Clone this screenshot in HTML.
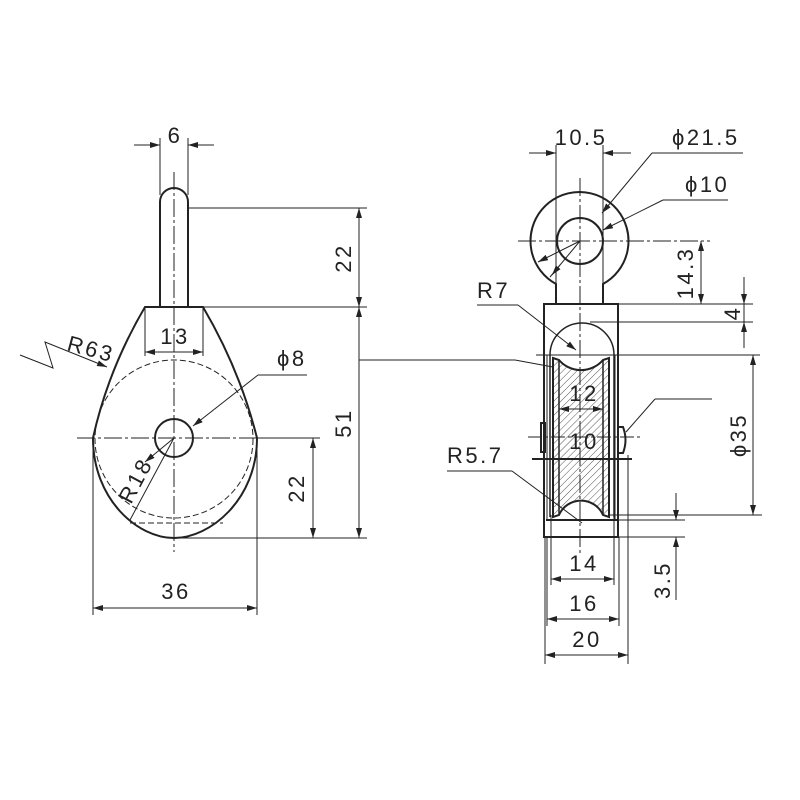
<!DOCTYPE html>
<html><head><meta charset="utf-8"><style>html,body{margin:0;padding:0;background:#fff}svg{display:block}</style></head><body>
<svg width="800" height="800" viewBox="0 0 800 800" xmlns="http://www.w3.org/2000/svg">
<defs>
<pattern id="h" width="5" height="5" patternUnits="userSpaceOnUse" patternTransform="rotate(45)">
<line x1="0" y1="0" x2="0" y2="5" stroke="#555" stroke-width="1"/></pattern>
<marker id="a" viewBox="0 0 10 6" refX="10" refY="3" markerWidth="10" markerHeight="6" orient="auto-start-reverse" markerUnits="userSpaceOnUse"><path d="M0,0 L10,3 L0,6 Z" fill="#222"/></marker>
</defs>
<rect width="800" height="800" fill="#fff"/>
<g font-family="'Liberation Sans Narrow','Liberation Sans',sans-serif" font-size="22" letter-spacing="2.5" fill="#222">
<!-- LEFT VIEW -->
<g stroke="#222" fill="none">
<path d="M160,307 L160,202 A14,14 0 0 1 188,202 L188,307" stroke-width="2"/>
<path d="M145,307 L203,307 Q240,370 257,438 C257,500 210,538 174,538 C138,538 93,500 93,438 Q108,370 145,307 Z" stroke-width="2"/>
<circle cx="174" cy="438" r="19" stroke-width="2"/>
<circle cx="174" cy="439" r="79" stroke-width="1" stroke-dasharray="6,3"/>
<line x1="130" y1="523" x2="223" y2="523" stroke-width="1" stroke-dasharray="6,3"/>
<g stroke-width="1">
<line x1="174" y1="172" x2="174" y2="552" stroke-dasharray="18,3,3,3"/>
<line x1="77" y1="438" x2="320" y2="438" stroke-dasharray="18,3,3,3"/>
<line x1="160" y1="138" x2="160" y2="195"/><line x1="188" y1="138" x2="188" y2="195"/>
<line x1="134" y1="145" x2="160" y2="145" marker-end="url(#a)"/><line x1="214" y1="145" x2="188" y2="145" marker-end="url(#a)"/>
<line x1="188" y1="208" x2="367" y2="208"/>
<line x1="203" y1="307" x2="367" y2="307"/>
<line x1="174" y1="538" x2="367" y2="538"/>
<line x1="359" y1="208" x2="359" y2="307" marker-start="url(#a)" marker-end="url(#a)"/>
<line x1="359" y1="307" x2="359" y2="538" marker-start="url(#a)" marker-end="url(#a)"/>
<line x1="359" y1="360" x2="515" y2="360"/><line x1="515" y1="360" x2="553" y2="367"/>
<line x1="257" y1="438" x2="320" y2="438"/>
<line x1="313" y1="438" x2="313" y2="538" marker-start="url(#a)" marker-end="url(#a)"/>
<line x1="145" y1="307" x2="145" y2="356"/><line x1="203" y1="307" x2="203" y2="356"/>
<line x1="145" y1="352" x2="203" y2="352" marker-start="url(#a)" marker-end="url(#a)"/>
<line x1="93" y1="438" x2="93" y2="615"/><line x1="257" y1="438" x2="257" y2="615"/>
<line x1="93" y1="608" x2="257" y2="608" marker-start="url(#a)" marker-end="url(#a)"/>
<polyline points="20,355 53,368 45,342 107,367" marker-end="url(#a)"/>
<line x1="258" y1="375" x2="307" y2="375"/>
<line x1="258" y1="375" x2="193" y2="426" marker-end="url(#a)"/>
<line x1="174" y1="438" x2="145" y2="462" marker-end="url(#a)"/>
<line x1="174" y1="438" x2="130" y2="520"/>
</g>
</g>
<text x="174" y="143" text-anchor="middle" dx="1">6</text>
<text x="174" y="344" text-anchor="middle" dx="1">13</text>
<text x="175" y="599" text-anchor="middle" dx="1">36</text>
<text x="277" y="366">ϕ8</text>
<text transform="translate(351,258) rotate(-90)" text-anchor="middle">22</text>
<text transform="translate(351,423) rotate(-90)" text-anchor="middle">51</text>
<text transform="translate(304,488) rotate(-90)" text-anchor="middle">22</text>
<text transform="translate(66,350) rotate(15)">R63</text>
<text transform="translate(131,505) rotate(-62)">R18</text>

<!-- RIGHT VIEW -->
<g stroke="#222" fill="none">
<path d="M556,304 L556,284 A49,49 0 1 1 603,284 L603,304" stroke-width="2"/>
<circle cx="580" cy="241" r="23" stroke-width="2"/>
<rect x="544" y="304" width="74" height="233" stroke-width="2"/>
<path d="M550,517 L550,355 A32,32 0 0 1 614,355 L614,517" stroke-width="1.5"/>
<line x1="547" y1="355" x2="547" y2="520" stroke-width="1"/>
<line x1="615" y1="355" x2="615" y2="520" stroke-width="1"/>
<path d="M553,358 L559,360 A29,29 0 0 0 603,360 L609,358 L609,517 L603,515 A24,24 0 0 0 559,515 L553,517 Z" fill="url(#h)" stroke-width="2"/>
<line x1="559" y1="360" x2="559" y2="515" stroke-width="1.5"/>
<line x1="603" y1="360" x2="603" y2="515" stroke-width="1.5"/>
<line x1="546" y1="520" x2="618" y2="520" stroke-width="2"/>
<rect x="541" y="423" width="4" height="29" stroke-width="2"/>
<path d="M619,427 L623,427 Q628,440 623,453 L619,453" stroke-width="2"/>
<g stroke-width="1">
<line x1="580" y1="178" x2="580" y2="555" stroke-dasharray="18,3,3,3"/>
<line x1="518" y1="241" x2="710" y2="241" stroke-dasharray="18,3,3,3"/>
<line x1="536" y1="355" x2="760" y2="355"/>
<line x1="528" y1="437" x2="642" y2="437" stroke-dasharray="14,3,3,3"/>
<line x1="532" y1="459" x2="632" y2="459" stroke-width="2"/>
<line x1="556" y1="145" x2="556" y2="284"/><line x1="603" y1="145" x2="603" y2="284"/>
<line x1="529" y1="153" x2="556" y2="153" marker-end="url(#a)"/><line x1="631" y1="153" x2="603" y2="153" marker-end="url(#a)"/>
<line x1="652" y1="153" x2="743" y2="153"/>
<line x1="652" y1="153" x2="602" y2="213" marker-end="url(#a)"/>
<line x1="580" y1="241" x2="550" y2="277"/>
<line x1="560" y1="265" x2="552" y2="275" marker-end="url(#a)"/>
<line x1="663" y1="200" x2="728" y2="200"/>
<line x1="663" y1="200" x2="603" y2="230" marker-end="url(#a)"/>
<line x1="580" y1="241" x2="538" y2="262" marker-end="url(#a)"/>
<line x1="618" y1="304" x2="753" y2="304"/>
<line x1="590" y1="322" x2="753" y2="322"/>
<line x1="701" y1="241" x2="701" y2="304" marker-start="url(#a)" marker-end="url(#a)"/>
<line x1="744" y1="277" x2="744" y2="304" marker-end="url(#a)"/>
<line x1="744" y1="348" x2="744" y2="322" marker-end="url(#a)"/>
<line x1="744" y1="304" x2="744" y2="322"/>
<line x1="477" y1="305" x2="518" y2="305"/>
<line x1="518" y1="305" x2="576" y2="350" marker-end="url(#a)"/>
<line x1="609" y1="515" x2="762" y2="515"/>
<line x1="753" y1="355" x2="753" y2="515" marker-start="url(#a)" marker-end="url(#a)"/>
<line x1="618" y1="520" x2="685" y2="520"/>
<line x1="618" y1="537" x2="685" y2="537"/>
<line x1="676" y1="493" x2="676" y2="520" marker-end="url(#a)"/>
<line x1="676" y1="600" x2="676" y2="537" marker-end="url(#a)"/>
<line x1="559" y1="409" x2="603" y2="409" marker-start="url(#a)" marker-end="url(#a)"/>
<line x1="712" y1="399" x2="655" y2="399"/><line x1="655" y1="399" x2="626" y2="432"/>
<line x1="447" y1="471" x2="512" y2="471"/>
<line x1="512" y1="471" x2="582" y2="523"/>
<line x1="551" y1="515" x2="551" y2="585"/><line x1="614" y1="515" x2="614" y2="585"/>
<line x1="551" y1="579" x2="614" y2="579" marker-start="url(#a)" marker-end="url(#a)"/>
<line x1="547" y1="537" x2="547" y2="626"/><line x1="619" y1="537" x2="619" y2="626"/>
<line x1="547" y1="619" x2="619" y2="619" marker-start="url(#a)" marker-end="url(#a)"/>
<line x1="545" y1="537" x2="545" y2="664"/><line x1="628" y1="455" x2="628" y2="664"/>
<line x1="545" y1="655" x2="628" y2="655" marker-start="url(#a)" marker-end="url(#a)"/>
</g>
</g>
<text x="580" y="145" text-anchor="middle" dx="1">10.5</text>
<text x="672" y="145">ϕ21.5</text>
<text x="685" y="192">ϕ10</text>
<text x="477" y="298">R7</text>
<text x="447" y="463">R5.7</text>
<text x="583" y="401" text-anchor="middle" dx="1">12</text>
<text x="583" y="449" text-anchor="middle" dx="1">10</text>
<text x="583" y="571" text-anchor="middle" dx="1">14</text>
<text x="583" y="611" text-anchor="middle" dx="1">16</text>
<text x="586" y="647" text-anchor="middle" dx="1">20</text>
<text transform="translate(693,273) rotate(-90)" text-anchor="middle">14.3</text>
<text transform="translate(740,313) rotate(-90)" text-anchor="middle">4</text>
<text transform="translate(746,435) rotate(-90)" text-anchor="middle">ϕ35</text>
<text transform="translate(670,580) rotate(-90)" text-anchor="middle">3.5</text>
</g>
</svg>
</body></html>
